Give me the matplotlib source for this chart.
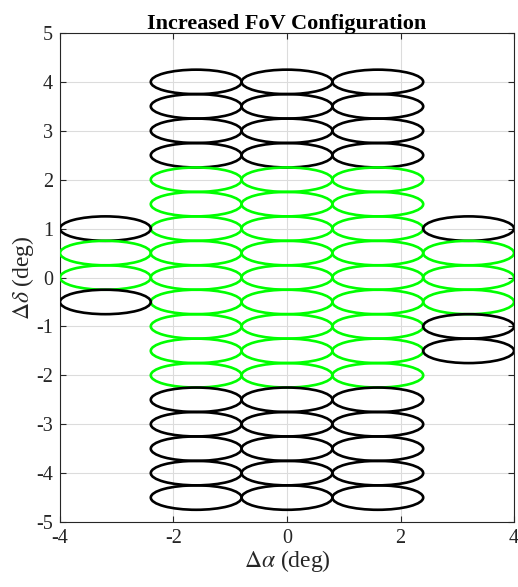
import matplotlib
matplotlib.use("Agg")
import matplotlib.pyplot as plt
from matplotlib.patches import Ellipse

plt.rcParams['font.family'] = ['Liberation Serif', 'DejaVu Serif']
plt.rcParams['mathtext.fontset'] = 'stix'
plt.rcParams['axes.unicode_minus'] = False

# beam footprint size (deg)
beam_w = 1.6
beam_h = 0.5

# central block: three columns, rows from top to bottom
main_x = [-1.6, 0.0, 1.6]
main_y = [4.0, 3.5, 3.0, 2.5, 2.0, 1.5, 1.0, 0.5, 0.0, -0.5,
          -1.0, -1.5, -2.0, -2.5, -3.0, -3.5, -4.0, -4.5]
main_on = [0, 0, 0, 0, 1, 1, 1, 1, 1, 1, 1, 1, 1, 0, 0, 0, 0, 0]

# extra columns on the sides
left_x = -3.2
left_y = [1.0, 0.5, 0.0, -0.5]
left_on = [0, 1, 1, 0]

right_x = 3.2
right_y = [1.0, 0.5, 0.0, -0.5, -1.0, -1.5]
right_on = [0, 1, 1, 1, 0, 0]

fig = plt.figure(figsize=(5.18, 5.87), dpi=100)
ax = fig.add_axes([0.1158, 0.1107, 0.8765, 0.8331])


def beam(x, y, on):
    c = (0, 1, 0) if on else 'black'
    ax.add_patch(Ellipse((x, y), beam_w, beam_h, fill=False,
                         edgecolor=c, linewidth=1.9, zorder=3))


for xc in main_x:
    for yc, on in zip(main_y, main_on):
        beam(xc, yc, on)
for yc, on in zip(left_y, left_on):
    beam(left_x, yc, on)
for yc, on in zip(right_y, right_on):
    beam(right_x, yc, on)

ax.set_xlim(-4, 4)
ax.set_ylim(-5, 5)
ax.set_xticks([-4, -2, 0, 2, 4])
ax.set_yticks(range(-5, 6))
ax.grid(True, color='#dcdcdc', linewidth=0.8)
ax.set_axisbelow(True)
ax.tick_params(direction='in', top=True, right=True, labelsize=14.5,
               color='#262626', length=4, labelcolor='#262626', pad=5)
for s in ax.spines.values():
    s.set_color('#262626')
    s.set_linewidth(0.8)

ax.set_xlabel(r'$\Delta\alpha$ (deg)', fontsize=17, color='#262626', labelpad=0)
ax.set_ylabel(r'$\Delta\delta$ (deg)', fontsize=17, color='#262626', labelpad=0)
ax.set_title('Increased FoV Configuration', fontsize=16, fontweight='bold', pad=3)

fig.savefig('out.png', dpi=100)
